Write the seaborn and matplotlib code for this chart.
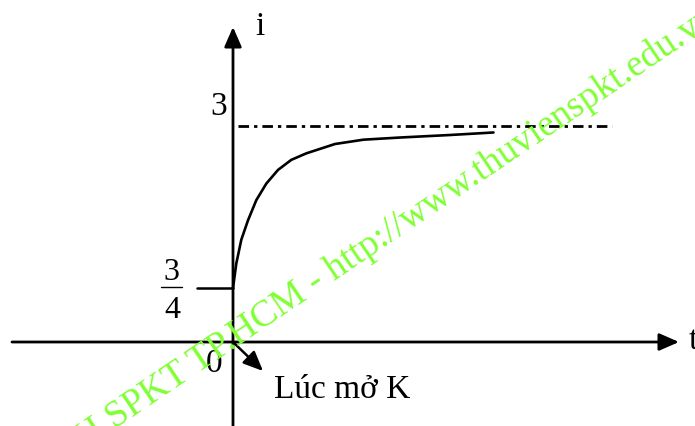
import numpy as np
import pandas as pd
import matplotlib
matplotlib.use("Agg")
import matplotlib.pyplot as plt
import seaborn as sns

# current i(t) after opening switch K
t_read = [0.0, 0.066, 0.166, 0.30, 0.466, 0.666, 0.90, 1.166, 1.466, 2.04, 2.61, 3.34, 4.34, 5.21]
i_read = [0.75, 1.09, 1.42, 1.69, 1.97, 2.20, 2.39, 2.53, 2.62, 2.75, 2.81, 2.84, 2.875, 2.91]
i_start = 0.75
i_final = 3.0
t_final_end = 7.58
y_labels = ["3", "0"]
switch_label = "Lúc mở K"
watermark_left = "Thư viện ĐH SPKT TP."
watermark_right = "HCM - http://www.thuvienspkt.edu.vn"

sns.set_style("white")
plt.rcParams['font.family'] = ['Liberation Serif', 'DejaVu Serif']
plt.rcParams['text.color'] = 'black'

# pixel -> data helpers (axes fill the whole figure)
X0, Y0, SX, SY = 233, 342, 50.0, 72.0
def dx(p):
    return (p - X0) / SX
def dy(p):
    return (Y0 - p) / SY

fig = plt.figure(figsize=(6.95, 4.26), dpi=100)
ax = fig.add_axes([0, 0, 1, 1])
ax.set_xlim(dx(0), dx(695))
ax.set_ylim(dy(426), dy(0))
ax.axis('off')

arrow = dict(arrowstyle='-|>,head_length=0.8,head_width=0.35', color='black',
             lw=2, shrinkA=0, shrinkB=0, mutation_scale=15)
# axes with arrows
ax.annotate('', xy=(dx(679), 0), xytext=(dx(12), 0), arrowprops=arrow)
ax.annotate('', xy=(0, dy(27)), xytext=(0, dy(426)), arrowprops=arrow)

# response curve
df = pd.DataFrame({'t': t_read, 'i': i_read})
sns.lineplot(data=df, x='t', y='i', ax=ax, color='black', lw=1.9, legend=False)

# steady-state asymptote
ax.plot([dx(238), t_final_end], [i_final, i_final], color='black', lw=2.0,
        linestyle=(0, (3.8, 1.8, 1.2, 1.8)))

# 3/4 tick and fraction
ax.plot([dx(197), 0], [i_start, i_start], color='black', lw=1.8)
ax.text(dx(171), dy(272), "3", fontsize=23, ha='center', va='center')
ax.plot([dx(161), dx(182)], [dy(287), dy(287)], color='black', lw=1.0)
ax.text(dx(172), dy(310), "4", fontsize=23, ha='center', va='center')

ax.text(dx(219), dy(107), y_labels[0], fontsize=24, ha='center', va='center')
ax.text(dx(214), dy(364), y_labels[1], fontsize=24, ha='center', va='center')
ax.text(dx(255), dy(35), "i", fontsize=24, ha='left', va='baseline')
ax.text(dx(689), dy(349), "t", fontsize=24, ha='left', va='baseline')

# switch opening arrow
ax.annotate('', xy=(dx(263), dy(371)), xytext=(0, 0), arrowprops=dict(arrow, lw=1.8))
ax.text(dx(274), dy(398), switch_label, fontsize=24, ha='left', va='baseline')

# watermark
wm = dict(fontsize=27, color='#80ff33', rotation=34, rotation_mode='anchor',
          va='baseline', zorder=10)
ax.text(dx(238), dy(346), watermark_left, ha='right', **wm)
ax.text(dx(238), dy(346), watermark_right, ha='left', **wm)

fig.savefig('out.png', dpi=100)
